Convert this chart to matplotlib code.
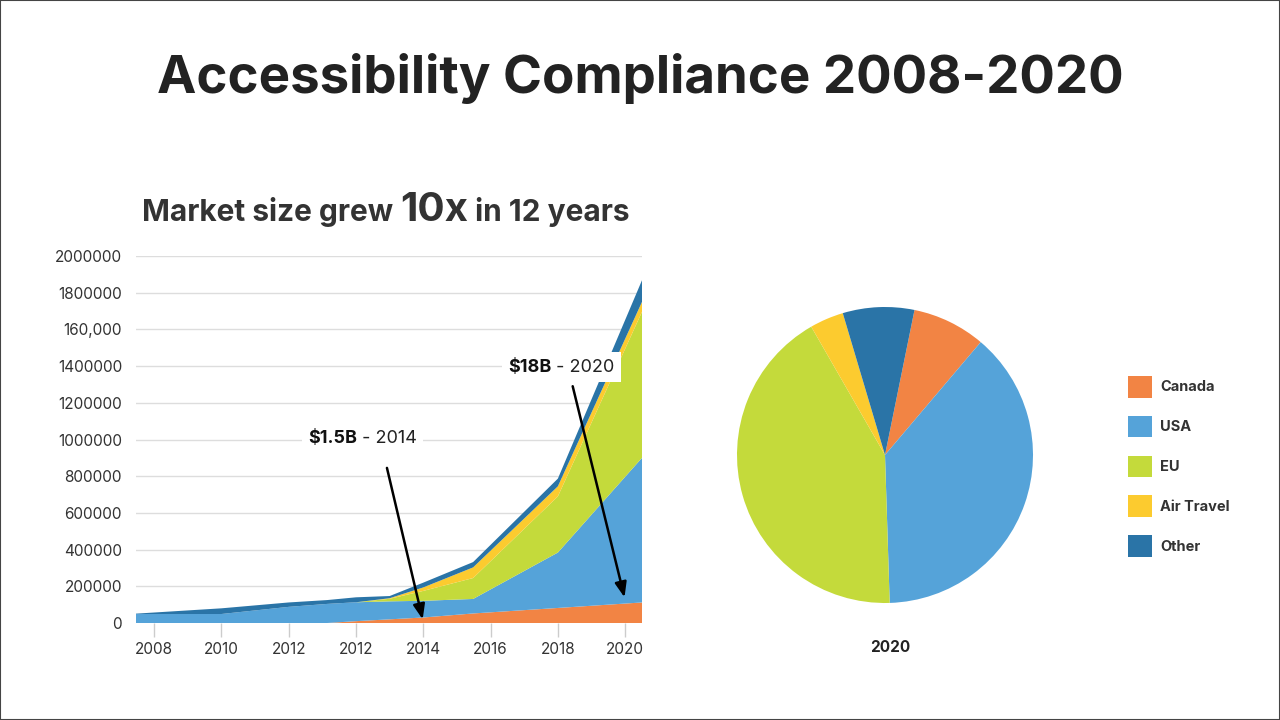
import matplotlib.pyplot as plt
from matplotlib.offsetbox import TextArea, HPacker, AnnotationBbox
from matplotlib.patches import Rectangle

plt.rcParams['font.family'] = ['Inter', 'DejaVu Sans']

# area chart data (x in category positions, values per layer)
tick_labels = ["2008", "2010", "2012", "2012", "2014", "2016", "2018", "2020"]
ytick_vals = [0, 200000, 400000, 600000, 800000, 1000000, 1200000, 1400000, 1600000, 1800000, 2000000]
ytick_text = ["0", "200000", "400000", "600000", "800000", "1000000", "1200000", "1400000",
              "160,000", "1800000", "2000000"]
xs = [-0.27, 1, 2, 2.57, 3, 3.5, 4, 4.74, 6, 7.25]
canada = [0, 0, 0, 0, 10000, 20000, 30000, 52000, 82000, 112000]
usa = [49000, 49000, 88000, 104000, 103000, 98000, 91000, 79000, 302000, 788000]
eu = [0, 0, 0, 0, 0, 14000, 54000, 114000, 306000, 796000]
air = [0, 0, 0, 0, 0, 3000, 19000, 58000, 55000, 54000]
other = [2000, 31000, 24000, 21000, 27000, 12000, 26000, 29000, 42000, 118000]

series_names = ["Canada", "USA", "EU", "Air Travel", "Other"]
colors = ["#F28444", "#55A3D9", "#C4DA3B", "#FCCB2F", "#2A74A7"]

# pie shares for 2020
pie_shares = [8.0, 38.3, 42.2, 3.7, 7.8]

fig = plt.figure(figsize=(12.8, 7.2), dpi=100)
fig.patches.append(Rectangle((0, 0), 1, 1, transform=fig.transFigure, fill=False,
                             edgecolor="#444444", lw=1.5))

fig.text(0.5, 1 - 79 / 720, "Accessibility Compliance 2008-2020", ha="center", va="center",
         fontsize=38, fontweight="bold", color="#222222")

# area chart
ax = fig.add_axes([136 / 1280, 1 - 623 / 720, 506 / 1280, 367 / 720])
ax.stackplot(xs, canada, usa, eu, air, other, colors=colors, lw=0, zorder=2)
ax.set_xlim(-0.27, 7.25)
ax.set_ylim(0, 2000000)
ax.set_xticks(range(len(tick_labels)))
ax.set_xticklabels(tick_labels)
ax.set_yticks(ytick_vals)
ax.set_yticklabels(ytick_text)
ax.grid(axis="y", color="#dddddd", lw=1, zorder=0)
ax.set_axisbelow(True)
for s in ax.spines.values():
    s.set_visible(False)
ax.tick_params(axis="x", length=10, width=1, color="#cccccc", labelsize=11,
               labelcolor="#333333", pad=4)
ax.tick_params(axis="y", length=0, labelsize=11, labelcolor="#333333", pad=10)

# subtitle with a larger "10x"
sub = HPacker(children=[
    TextArea("Market size grew ", textprops=dict(fontsize=21.5, fontweight="bold", color="#333333")),
    TextArea("10x", textprops=dict(fontsize=29, fontweight="bold", color="#333333")),
    TextArea(" in 12 years", textprops=dict(fontsize=21.5, fontweight="bold", color="#333333")),
], align="baseline", pad=0, sep=0)
fig.add_artist(AnnotationBbox(sub, (386 / 1280, 1 - 210 / 720), xycoords="figure fraction",
                              frameon=False, box_alignment=(0.5, 0.5)))


def callout(bold, rest, xy_box):
    box = HPacker(children=[
        TextArea(bold, textprops=dict(fontsize=13, fontweight="bold", color="#111111")),
        TextArea(rest, textprops=dict(fontsize=13, color="#222222")),
    ], align="baseline", pad=0, sep=0)
    ab = AnnotationBbox(box, xy_box, xycoords="data", frameon=True, pad=0.45,
                        bboxprops=dict(facecolor="white", edgecolor="none"), zorder=3)
    ax.add_artist(ab)


callout("$1.5B", " - 2014", (3.1, 1003000))
callout("$18B", " - 2020", (6.05, 1395000))

arrow = dict(arrowstyle="-|>,head_length=0.9,head_width=0.35", color="black", lw=1.8)
ax.annotate("", xy=(4.0, 5000), xytext=(3.45, 860000), arrowprops=arrow, zorder=4)
ax.annotate("", xy=(7.0, 125000), xytext=(6.21, 1305000), arrowprops=arrow, zorder=4)

# pie chart
pax = fig.add_axes([(885 - 148) / 1280, (720 - 455 - 148) / 720, 296 / 1280, 296 / 720])
wedges, _ = pax.pie(pie_shares, colors=colors, startangle=78.5, counterclock=False,
                    wedgeprops=dict(lw=0))
pax.set_xlim(-1, 1)
pax.set_ylim(-1, 1)
fig.text(890 / 1280, 1 - 648 / 720, "2020", ha="center", va="center", fontsize=11,
         fontweight="bold", color="#222222")

fig.legend(wedges, series_names, loc="upper left", bbox_to_anchor=(1128 / 1280, 1 - 376 / 720),
           frameon=False, handlelength=1.65, handleheight=1.9,
           labelspacing=1.25, handletextpad=0.55, borderpad=0, borderaxespad=0,
           prop=dict(weight="bold", size=10.5), labelcolor="#333333")

fig.savefig("out.png", dpi=100)
